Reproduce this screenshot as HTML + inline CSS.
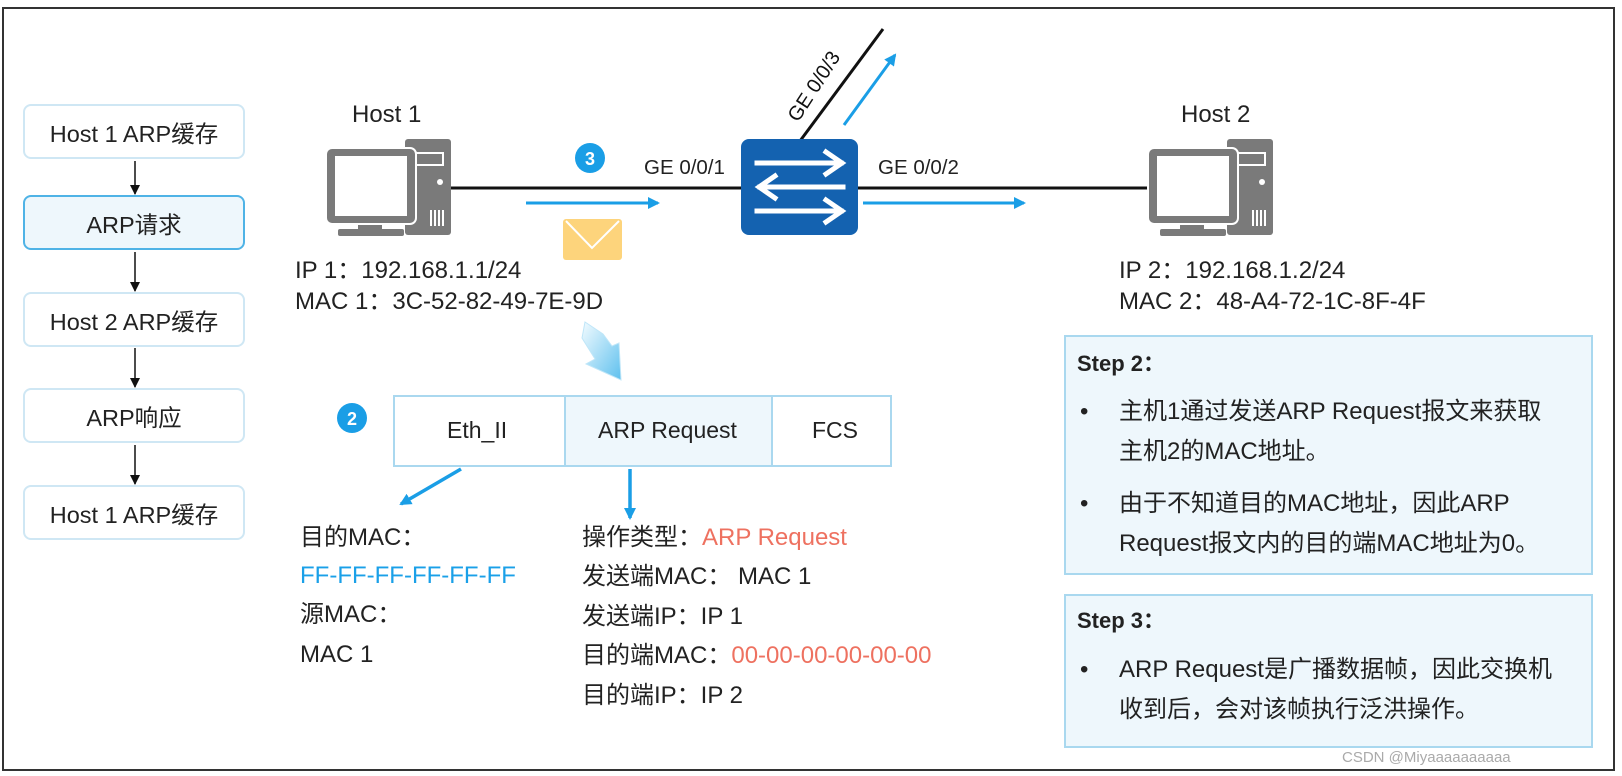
<!DOCTYPE html>
<html><head><meta charset="utf-8"><style>
body{margin:0;width:1622px;height:776px;background:#fff;overflow:hidden;position:relative;font-family:"Liberation Sans","Noto Sans CJK SC",sans-serif;color:#222}
.t{position:absolute;white-space:nowrap;font-size:24px;line-height:1}
.lb{position:absolute;left:23px;width:222px;height:55px;border:2px solid #cfe7f4;border-radius:8px;box-sizing:border-box;font-size:23.5px;display:flex;align-items:center;justify-content:center;background:#fff}
.step{position:absolute;left:1064px;width:529px;border:2px solid #a9d8ef;background:#eef7fc;box-sizing:border-box}
</style></head><body>
<svg width="1622" height="776" style="position:absolute;left:0;top:0">
<defs>
<marker id="ak" markerWidth="10" markerHeight="10" refX="9" refY="5" orient="auto" markerUnits="userSpaceOnUse"><path d="M0,0 L10,5 L0,10 z" fill="#111"/></marker>
<marker id="ab" markerWidth="12" markerHeight="12" refX="10" refY="6" orient="auto" markerUnits="userSpaceOnUse"><path d="M0,0 L12,6 L0,12 z" fill="#1a9ee6"/></marker>
<linearGradient id="g" x1="0" y1="0" x2="1" y2="1"><stop offset="0" stop-color="#f2fbff"/><stop offset="1" stop-color="#5ec0ee"/></linearGradient>
</defs>
<rect x="3" y="8" width="1611" height="762" fill="none" stroke="#333" stroke-width="2"/>
<line x1="135" y1="161" x2="135" y2="194" stroke="#111" stroke-width="1.5" marker-end="url(#ak)"/>
<line x1="135" y1="252" x2="135" y2="291" stroke="#111" stroke-width="1.5" marker-end="url(#ak)"/>
<line x1="135" y1="348" x2="135" y2="387" stroke="#111" stroke-width="1.5" marker-end="url(#ak)"/>
<line x1="135" y1="445" x2="135" y2="484" stroke="#111" stroke-width="1.5" marker-end="url(#ak)"/>
<line x1="451" y1="188" x2="742" y2="188" stroke="#111" stroke-width="3"/>
<line x1="857" y1="188" x2="1150" y2="188" stroke="#111" stroke-width="3"/>
<line x1="800" y1="141" x2="883" y2="29" stroke="#111" stroke-width="3"/>
<line x1="526" y1="203" x2="658" y2="203" stroke="#1a9ee6" stroke-width="3" marker-end="url(#ab)"/>
<line x1="863" y1="203" x2="1024" y2="203" stroke="#1a9ee6" stroke-width="3" marker-end="url(#ab)"/>
<line x1="844" y1="125" x2="895" y2="55" stroke="#1a9ee6" stroke-width="3" marker-end="url(#ab)"/>
<rect x="563" y="219" width="59" height="41" rx="3" fill="#fdd47c"/>
<path d="M566,221 L592,248 L619,221" fill="none" stroke="#fff" stroke-width="2"/>
<rect x="741" y="139" width="117" height="96" rx="8" fill="#1462b0"/>
<g stroke="#fff" stroke-width="5" fill="none" stroke-linecap="square">
<line x1="757" y1="163" x2="841" y2="163"/><path d="M826,152 L842,163 L826,174"/>
<line x1="760" y1="187" x2="843" y2="187"/><path d="M775,176 L759,187 L775,198"/>
<line x1="757" y1="211" x2="841" y2="211"/><path d="M826,200 L842,211 L826,222"/>
</g>
<g id="pc" fill="#7a7a7a">
<rect x="405" y="139" width="46" height="96" rx="3"/>
<rect x="412" y="152" width="32" height="14" fill="#fff"/>
<rect x="414" y="154" width="28" height="10"/>
<circle cx="440" cy="182" r="3" fill="#fff"/>
<g fill="#fff"><rect x="430" y="210" width="2" height="16"/><rect x="434" y="210" width="2" height="16"/><rect x="438" y="210" width="2" height="16"/><rect x="442" y="210" width="2" height="16"/></g>
<rect x="326" y="148" width="90" height="76" rx="6" stroke="#fff" stroke-width="2"/>
<rect x="335" y="156" width="72" height="60" fill="#fff"/>
<rect x="358" y="225" width="24" height="5"/>
<rect x="338" y="229" width="66" height="7" rx="2"/>
</g>
<use href="#pc" x="822"/>
<circle cx="590" cy="158" r="15" fill="#1a9ee6"/>
<text x="590" y="165" font-family="Liberation Sans" font-weight="bold" font-size="18" fill="#fff" text-anchor="middle">3</text>
<circle cx="352" cy="418" r="15" fill="#1a9ee6"/>
<text x="352" y="425" font-family="Liberation Sans" font-weight="bold" font-size="18" fill="#fff" text-anchor="middle">2</text>
<path d="M585,322 L603,334 L612,346 L619,343 L621,380 L586,364 L595,359 L582,338 z" fill="url(#g)" stroke="#bfe6f8" stroke-width="1"/>
<rect x="394" y="396" width="497" height="70" fill="#fff" stroke="#aad8ef" stroke-width="2"/>
<rect x="565" y="397" width="207" height="68" fill="#eef7fc"/>
<line x1="565" y1="396" x2="565" y2="466" stroke="#aad8ef" stroke-width="2"/>
<line x1="772" y1="396" x2="772" y2="466" stroke="#aad8ef" stroke-width="2"/>
<line x1="461" y1="469" x2="401" y2="504" stroke="#1a9ee6" stroke-width="3.5" marker-end="url(#ab)"/>
<line x1="630" y1="469" x2="630" y2="518" stroke="#1a9ee6" stroke-width="3.5" marker-end="url(#ab)"/>
<text x="0" y="0" transform="translate(798,123) rotate(-57)" font-family="Liberation Sans" font-size="20" fill="#111">GE 0/0/3</text>
</svg>

<div class="lb" style="top:104px">Host 1 ARP缓存</div>
<div class="lb" style="top:195px;background:#eef7fc;border-color:#4fb3e6">ARP请求</div>
<div class="lb" style="top:292px">Host 2 ARP缓存</div>
<div class="lb" style="top:388px">ARP响应</div>
<div class="lb" style="top:485px">Host 1 ARP缓存</div>

<div class="t" style="left:352px;top:103px">Host 1</div>
<div class="t" style="left:1181px;top:103px">Host 2</div>
<div class="t" style="left:644px;top:158px;font-size:20.5px">GE 0/0/1</div>
<div class="t" style="left:878px;top:158px;font-size:20.5px">GE 0/0/2</div>
<div class="t" style="left:295px;top:259px">IP 1：192.168.1.1/24</div>
<div class="t" style="left:295px;top:290px">MAC 1：3C-52-82-49-7E-9D</div>
<div class="t" style="left:1119px;top:259px">IP 2：192.168.1.2/24</div>
<div class="t" style="left:1119px;top:290px">MAC 2：48-A4-72-1C-8F-4F</div>

<div class="t" style="left:447px;top:419px;font-size:23px">Eth_II</div>
<div class="t" style="left:598px;top:419px;font-size:23px">ARP Request</div>
<div class="t" style="left:812px;top:419px;font-size:23px">FCS</div>

<div class="t" style="left:300px;top:526px">目的MAC：</div>
<div class="t" style="left:300px;top:564px;color:#1aa0e8">FF-FF-FF-FF-FF-FF</div>
<div class="t" style="left:300px;top:603px">源MAC：</div>
<div class="t" style="left:300px;top:643px">MAC 1</div>

<div class="t" style="left:582px;top:526px">操作类型：<span style="color:#ee7160">ARP Request</span></div>
<div class="t" style="left:582px;top:565px">发送端MAC： MAC 1</div>
<div class="t" style="left:582px;top:605px">发送端IP：IP 1</div>
<div class="t" style="left:582px;top:644px">目的端MAC：<span style="color:#ee7160">00-00-00-00-00-00</span></div>
<div class="t" style="left:582px;top:684px">目的端IP：IP 2</div>

<div class="step" style="top:335px;height:240px"></div>
<div class="step" style="top:594px;height:154px"></div>
<div class="t" style="left:1077px;top:353px;font-weight:bold;font-size:22px">Step 2：</div>
<div class="t" style="left:1080px;top:400px">•</div>
<div class="t" style="left:1119px;top:400px">主机1通过发送ARP Request报文来获取</div>
<div class="t" style="left:1119px;top:440px">主机2的MAC地址。</div>
<div class="t" style="left:1080px;top:492px">•</div>
<div class="t" style="left:1119px;top:492px">由于不知道目的MAC地址，因此ARP</div>
<div class="t" style="left:1119px;top:532px">Request报文内的目的端MAC地址为0。</div>
<div class="t" style="left:1077px;top:610px;font-weight:bold;font-size:22px">Step 3：</div>
<div class="t" style="left:1080px;top:658px">•</div>
<div class="t" style="left:1119px;top:658px">ARP Request是广播数据帧，因此交换机</div>
<div class="t" style="left:1119px;top:698px">收到后，会对该帧执行泛洪操作。</div>
<div class="t" style="left:1342px;top:750px;font-size:15px;color:#aaa">CSDN @Miyaaaaaaaaaa</div>
</body></html>
